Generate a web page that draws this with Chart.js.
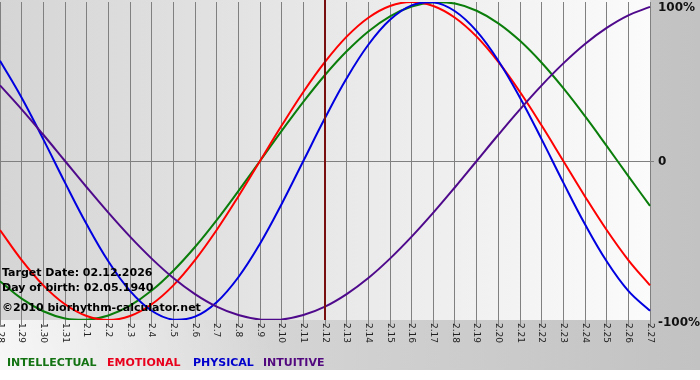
<!DOCTYPE html>
<html>
<head>
<meta charset="utf-8">
<script src="https://cdn.jsdelivr.net/npm/chart.js@4"></script>
<style>
html,body{margin:0;padding:0;background:#fff;}
#wrap{width:700px;height:380px;}
</style>
</head>
<body>
<div id="wrap"><canvas id="c" width="700" height="380"></canvas></div>
<script>
const days = ['1.28','1.29','1.30','1.31','2.1','2.2','2.3','2.4','2.5','2.6','2.7','2.8','2.9','2.10','2.11','2.12','2.13','2.14','2.15','2.16','2.17','2.18','2.19','2.20','2.21','2.22','2.23','2.24','2.25','2.26','2.27'];

const intellectual = [-0.756,-0.866,-0.945,-0.990,-0.999,-0.972,-0.910,-0.815,-0.690,-0.541,-0.372,-0.189,0,0.189,0.372,0.541,0.690,0.815,0.910,0.972,0.999,0.990,0.945,0.866,0.756,0.618,0.458,0.282,0.095,-0.095,-0.282];
const emotional = [-0.434,-0.623,-0.782,-0.901,-0.975,-1,-0.975,-0.901,-0.782,-0.623,-0.434,-0.223,0,0.223,0.434,0.623,0.782,0.901,0.975,1,0.975,0.901,0.782,0.623,0.434,0.223,0,-0.223,-0.434,-0.623,-0.782];
const physical = [0.631,0.398,0.136,-0.136,-0.398,-0.631,-0.817,-0.942,-0.998,-0.979,-0.888,-0.731,-0.520,-0.270,0,0.270,0.520,0.731,0.888,0.979,0.998,0.942,0.817,0.631,0.398,0.136,-0.136,-0.398,-0.631,-0.817,-0.942];
const intuitive = [0.476,0.325,0.165,0,-0.165,-0.325,-0.476,-0.614,-0.736,-0.837,-0.916,-0.969,-0.997,-0.997,-0.969,-0.916,-0.837,-0.736,-0.614,-0.476,-0.325,-0.165,0,0.165,0.325,0.476,0.614,0.736,0.837,0.916,0.969];

const yTickValues = [1, 0, -1];
const yTickLabels = ['100%','0','-100%'];
const targetDay = '2.12';
const infoLines = ['Target Date: 02.12.2026','Day of birth: 02.05.1940','\u00A92010 biorhythm-calculator.net'];
const legendNames = ['INTELLECTUAL','EMOTIONAL','PHYSICAL','INTUITIVE'];
const legendColors = ['#137313','#e8001c','#0000cc','#52087e'];
const lineColors = ['#0a7d0a','#ff0000','#0000e0','#4f0a8c'];

const bgPlugin = {
  id:'bg',
  beforeDraw(chart){
    const {ctx, chartArea:a, width, height} = chart;
    ctx.save();
    let g = ctx.createLinearGradient(0,0,width,0);
    g.addColorStop(0,'#e0e0e0');
    g.addColorStop(1,'#c2c2c2');
    ctx.fillStyle = g;
    ctx.fillRect(0,0,width,370);
    let g3 = ctx.createLinearGradient(0,370,260,300);
    g3.addColorStop(0,'rgba(255,255,255,0.75)');
    g3.addColorStop(1,'rgba(255,255,255,0)');
    ctx.fillStyle = g3;
    ctx.fillRect(0,a.bottom,width,370-a.bottom);
    ctx.fillStyle='#ffffff';
    ctx.fillRect(0,370,width,height-370);
    let g2 = ctx.createLinearGradient(a.left,0,a.right,0);
    g2.addColorStop(0,'#d5d5d5');
    g2.addColorStop(1,'#fbfbfb');
    ctx.fillStyle = g2;
    ctx.fillRect(a.left,0,a.right-a.left,a.bottom);
    ctx.restore();
  },
  afterDatasetsDraw(chart){
    const {ctx, chartArea:a, scales} = chart;
    const xs = scales.x, ys = scales.y;
    ctx.save();
    const tx = xs.getPixelForValue(days.indexOf(targetDay));
    ctx.strokeStyle='#7a0f0f';
    ctx.lineWidth=2;
    ctx.beginPath(); ctx.moveTo(tx,0); ctx.lineTo(tx,a.bottom); ctx.stroke();
    ctx.fillStyle='#222';
    ctx.font='9px "DejaVu Sans"';
    ctx.textBaseline='middle';
    ctx.textAlign='left';
    days.forEach((d,i)=>{
      const x = xs.getPixelForValue(i);
      ctx.save();
      ctx.translate(x, a.bottom+3);
      ctx.rotate(Math.PI/2);
      ctx.fillText(d,0,0);
      ctx.restore();
    });
    ctx.fillStyle='#111';
    ctx.font='bold 12px "DejaVu Sans"';
    ctx.textBaseline='alphabetic';
    const shift = [9, 4, 6];
    yTickValues.forEach((v,i)=>{
      let y = ys.getPixelForValue(v) + shift[i];
      ctx.fillText(yTickLabels[i], a.right+8, y);
    });
    ctx.fillStyle='#000';
    ctx.font='bold 11px "DejaVu Sans"';
    ctx.fillText(infoLines[0],2,276);
    ctx.fillText(infoLines[1],2,291);
    ctx.fillText(infoLines[2],2,311);
    const lx = [7,107,193,263];
    legendNames.forEach((n,i)=>{
      ctx.fillStyle=legendColors[i];
      ctx.fillText(n,lx[i],366);
    });
    ctx.restore();
  }
};

const names = ['Intellectual','Emotional','Physical','Intuitive'];
const series = [intellectual, emotional, physical, intuitive];

new Chart(document.getElementById('c'),{
  type:'line',
  data:{
    labels:days,
    datasets: series.map((s,i)=>({
      label:names[i],
      data:s,
      borderColor:lineColors[i],
      borderWidth:2,
      pointRadius:0,
      tension:0.4,
      fill:false,
      order:4-i
    }))
  },
  options:{
    responsive:false,
    animation:false,
    devicePixelRatio:1,
    layout:{padding:{top:2,left:0,right:0,bottom:0}},
    plugins:{legend:{display:false},tooltip:{enabled:false}},
    scales:{
      x:{
        offset:false,
        grid:{color:'#808080',lineWidth:1,tickLength:5,drawTicks:true},
        border:{display:false},
        ticks:{display:false,autoSkip:false},
        afterFit(s){s.height=60;s.paddingLeft=0;s.paddingRight=0;}
      },
      y:{
        position:'right',
        min:-1,max:1,
        afterBuildTicks(s){s.ticks=yTickValues.map(v=>({value:v}));},
        grid:{
          color:(c)=> (c.tick && c.tick.value===0) ? '#808080' : 'rgba(0,0,0,0)',
          tickColor:(c)=> (c.tick && c.tick.value===0) ? '#808080' : 'rgba(0,0,0,0)',
          tickLength:4
        },
        border:{display:false},
        ticks:{display:false},
        afterFit(s){s.width=50;s.paddingTop=0;s.paddingBottom=0;}
      }
    }
  },
  plugins:[bgPlugin]
});
</script>
</body>
</html>
